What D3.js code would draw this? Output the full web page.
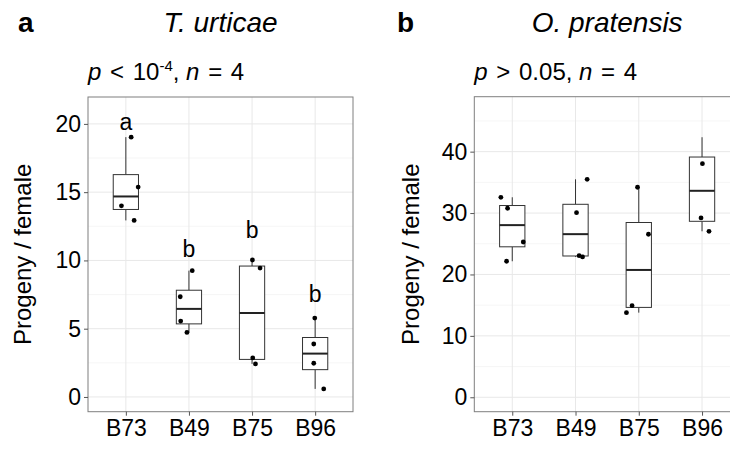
<!DOCTYPE html>
<html>
<head>
<meta charset="utf-8">
<script src="https://cdn.jsdelivr.net/npm/d3@7"></script>
<style>
  body { margin: 0; background: #fff; }
  svg { display: block; font-family: "Liberation Sans", Arial, Helvetica, sans-serif; }
</style>
</head>
<body>
<script>
const [W, H] = [730, 450];

const lines = ['B73', 'B49', 'B75', 'B96'];

// T. urticae progeny per female (4 replicates per line)
const urticae = [
    [19.03, 15.37, 14.0, 12.93],
    [9.25, 7.34, 5.56, 4.73],
    [10.03, 9.44, 2.86, 2.42],
    [5.78, 3.88, 2.47, 0.59]
];
const urticaeJitter = [
    [0.084, 0.195, -0.07, 0.131],
    [0.052, -0.138, -0.131, -0.032],
    [0.006, 0.127, 0.011, 0.054],
    [-0.006, -0.022, -0.022, 0.136]
];
const urticaeLetters = ['a', 'b', 'b', 'b'];
const urticaeLetterY = [19.55, 10.27, 11.66, 6.93];

// O. pratensis progeny per female
const pratensis = [
    [32.57, 30.78, 25.29, 22.15],
    [35.5, 30.07, 23.06, 22.85],
    [34.2, 26.55, 14.92, 13.78],
    [38.05, 29.2, 27.03, 42.35]
];
// null = point not visible in the figure
const pratensisJitter = [
    [-0.18, -0.074, 0.174, -0.09],
    [0.184, 0.016, 0.057, 0.111],
    [-0.02, 0.153, -0.106, -0.195],
    [0.006, -0.016, 0.11, null]
];

const urticaeTicks = [0, 5, 10, 15, 20];
const pratensisTicks = [0, 10, 20, 30, 40];

const sp = '\u00a0\u200a'; // space around relation signs, plotmath style

function main() {
    const svg = d3.select('body').append('svg')
        .attr('width', W).attr('height', H);

    drawPanel(svg, {
        left: 88, right: 353, top: 97, bottom: 411.7,
        domain: [-1.08, 21.97],
        ticks: urticaeTicks, step: 5,
        values: urticae, jitter: urticaeJitter,
        letters: urticaeLetters, letterY: urticaeLetterY,
        tag: 'a', tagX: 18, title: 'T. urticae',
        // [text, italic, dy, size]
        stat: [['p', true, 0], [sp + '<' + sp + '10', false, 0], ['-4', false, -9, 15], [',\u00a0', false, 9], ['n', true, 0], [sp + '=' + sp + '4', false, 0]],
        ytitleX: 31
    });

    drawPanel(svg, {
        left: 474.3, right: 740, top: 96.7, bottom: 411.7,
        domain: [-2.35, 48.95],
        ticks: pratensisTicks, step: 10,
        values: pratensis, jitter: pratensisJitter,
        letters: null,
        tag: 'b', tagX: 397, title: 'O. pratensis',
        stat: [['p', true, 0], [sp + '>' + sp + '0.05,\u00a0', false, 0], ['n', true, 0], [sp + '=' + sp + '4', false, 0]],
        ytitleX: 419
    });
}

function drawPanel(svg, o) {
    const x = d3.scalePoint().domain(lines).range([o.left, o.right]).padding(0.6);
    const y = d3.scaleLinear().domain(o.domain).range([o.bottom, o.top]);
    const step = x.step();
    const g = svg.append('g');

    // grid
    const minor = o.ticks.map(t => t + o.step / 2).filter(t => t < o.domain[1]);
    g.selectAll('.minor').data(minor).enter().append('line')
        .attr('x1', o.left).attr('x2', o.right)
        .attr('y1', d => y(d)).attr('y2', d => y(d))
        .attr('stroke', '#f4f4f4').attr('stroke-width', 0.8);
    g.selectAll('.major').data(o.ticks).enter().append('line')
        .attr('x1', o.left).attr('x2', o.right)
        .attr('y1', d => y(d)).attr('y2', d => y(d))
        .attr('stroke', '#e8e8e8').attr('stroke-width', 1);
    g.selectAll('.vgrid').data(lines).enter().append('line')
        .attr('x1', d => x(d)).attr('x2', d => x(d))
        .attr('y1', o.top).attr('y2', o.bottom)
        .attr('stroke', '#e8e8e8').attr('stroke-width', 1);

    // boxes
    const bw = 0.4 * step;
    o.values.forEach((vals, i) => {
        const s = vals.slice().sort(d3.ascending);
        const q1 = d3.quantile(s, 0.25), med = d3.quantile(s, 0.5), q3 = d3.quantile(s, 0.75);
        const cx = x(lines[i]);
        const bg = g.append('g');
        bg.append('line').attr('x1', cx).attr('x2', cx)
            .attr('y1', y(s[s.length - 1])).attr('y2', y(q3))
            .attr('stroke', '#333').attr('stroke-width', 1);
        bg.append('line').attr('x1', cx).attr('x2', cx)
            .attr('y1', y(q1)).attr('y2', y(s[0]))
            .attr('stroke', '#333').attr('stroke-width', 1);
        bg.append('rect').attr('x', cx - bw / 2).attr('width', bw)
            .attr('y', y(q3)).attr('height', y(q1) - y(q3))
            .attr('fill', '#fff').attr('stroke', '#333').attr('stroke-width', 1);
        bg.append('line').attr('x1', cx - bw / 2).attr('x2', cx + bw / 2)
            .attr('y1', y(med)).attr('y2', y(med))
            .attr('stroke', '#222').attr('stroke-width', 2);

        const pts = vals.map((v, j) => ({ v: v, j: o.jitter[i][j] })).filter(p => p.j !== null);
        bg.selectAll('circle').data(pts).enter().append('circle')
            .attr('cx', p => cx + p.j * step)
            .attr('cy', p => y(p.v))
            .attr('r', 2.4)
            .attr('fill', '#000');

        if (o.letters) {
            bg.append('text')
                .attr('x', cx).attr('y', y(o.letterY[i]))
                .attr('text-anchor', 'middle')
                .style('font-size', '23px')
                .text(o.letters[i]);
        }
    });

    // border
    g.append('rect').attr('x', o.left).attr('y', o.top)
        .attr('width', o.right - o.left).attr('height', o.bottom - o.top)
        .attr('fill', 'none').attr('stroke', '#7f7f7f').attr('stroke-width', 1);

    // axes
    const yAxis = g.append('g')
        .attr('transform', 'translate(' + o.left + ',0)')
        .call(d3.axisLeft(y).tickValues(o.ticks).tickSize(4).tickPadding(3));
    const xAxis = g.append('g')
        .attr('transform', 'translate(0,' + o.bottom + ')')
        .call(d3.axisBottom(x).tickSize(4).tickPadding(4));
    [xAxis, yAxis].forEach(a => {
        a.select('.domain').remove();
        a.selectAll('line').attr('stroke', '#555');
        a.selectAll('text').attr('fill', '#000')
            .style('font-size', '23px').style('font-family', '"Liberation Sans", Arial, sans-serif');
    });

    // y title
    g.append('text')
        .attr('transform', 'translate(' + o.ytitleX + ',' + ((o.top + o.bottom) / 2) + ') rotate(-90)')
        .attr('text-anchor', 'middle')
        .style('font-size', '24px')
        .text('Progeny / female');

    // tag letter and title
    g.append('text').attr('x', o.tagX).attr('y', 32)
        .style('font-size', '28px').style('font-weight', 'bold')
        .text(o.tag);
    g.append('text').attr('x', (o.left + o.right) / 2).attr('y', 32)
        .attr('text-anchor', 'middle')
        .style('font-size', '28px').style('font-style', 'italic')
        .text(o.title);

    // statistics line
    const st = g.append('text').attr('x', o.left).attr('y', 80)
        .style('font-size', '24px');
    o.stat.forEach(p => {
        const span = st.append('tspan').text(p[0]);
        if (p[1]) span.style('font-style', 'italic');
        if (p[2]) span.attr('dy', p[2]);
        if (p[3]) span.style('font-size', p[3] + 'px');
    });
}

document.addEventListener('DOMContentLoaded', main);
</script>
</body>
</html>
